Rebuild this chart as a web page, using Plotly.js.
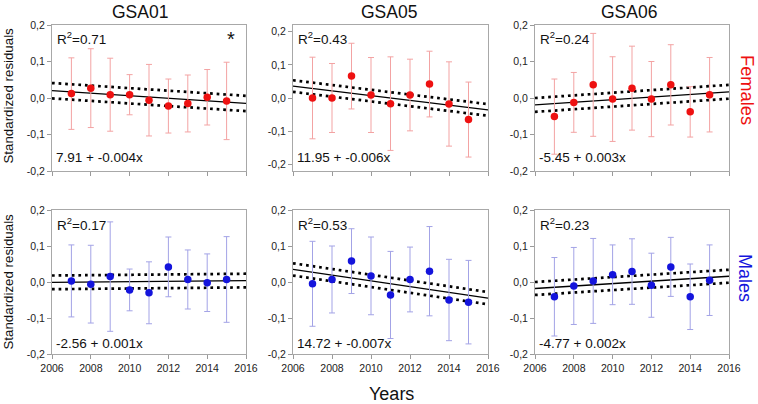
<!DOCTYPE html>
<html>
<head>
<meta charset="utf-8">
<script src="https://cdn.plot.ly/plotly-3.0.1.min.js"></script>
<style>html,body{margin:0;padding:0;background:#fff;}#chart{width:758px;height:404px;}</style>
</head>
<body>
<div id="chart"></div>
<script>
// ---- data ----
const years = [2007, 2008, 2009, 2010, 2011, 2012, 2013, 2014, 2015];
const gsaNames = ['GSA01', 'GSA05', 'GSA06'];

const femGSA01    = [0.012, 0.027, 0.009, 0.009, -0.006, -0.022, -0.015, 0.002, -0.008];
const femGSA01Err = [0.098, 0.108, 0.100, 0.055, 0.098, 0.074, 0.078, 0.076, 0.106];
const femGSA05    = [0.000, 0.000, 0.066, 0.009, -0.017, 0.009, 0.042, -0.018, -0.065];
const femGSA05Err = [0.123, 0.104, 0.099, 0.113, 0.141, 0.108, 0.099, 0.127, 0.113];
const femGSA06    = [-0.051, -0.012, 0.036, -0.003, 0.027, -0.003, 0.036, -0.038, 0.009];
const femGSA06Err = [0.103, 0.082, 0.141, 0.116, 0.115, 0.103, 0.110, 0.069, 0.102];

const malGSA01    = [0.003, -0.006, 0.015, -0.022, -0.030, 0.042, 0.007, -0.002, 0.007];
const malGSA01Err = [0.100, 0.108, 0.152, 0.058, 0.086, 0.083, 0.082, 0.080, 0.119];
const malGSA05    = [-0.005, 0.007, 0.058, 0.017, -0.036, 0.007, 0.030, -0.050, -0.056];
const malGSA05Err = [0.118, 0.093, 0.090, 0.108, 0.121, 0.090, 0.124, 0.113, 0.116];
const malGSA06    = [-0.041, -0.011, 0.003, 0.020, 0.029, -0.009, 0.042, -0.041, 0.005];
const malGSA06Err = [0.109, 0.107, 0.118, 0.083, 0.091, 0.089, 0.082, 0.091, 0.098];

// regression line values at the two ends of the x range, and confidence band half-widths
const fitYears = [2006, 2016];
const femFitGSA01 = [0.020, -0.015];
const femFitGSA05 = [0.036, -0.036];
const femFitGSA06 = [-0.019, 0.017];
const malFitGSA01 = [-0.001, 0.004];
const malFitGSA05 = [0.035, -0.045];
const malFitGSA06 = [-0.018, 0.016];
const femBand = [0.021, 0.0175, 0.019];
const malBand = [0.019, 0.017, 0.018];

const femR2 = ['0.71', '0.43', '0.24'];
const malR2 = ['0.17', '0.53', '0.23'];
const femEq = ['7.91 + -0.004x', '11.95 + -0.006x', '-5.45 + 0.003x'];
const malEq = ['-2.56 + 0.001x', '14.72 + -0.007x', '-4.77 + 0.002x'];
const significant = ['*', '', '', '', '', ''];

const xTickVals = [2006, 2008, 2010, 2012, 2014, 2016];
const yTickVals = [-0.2, -0.1, 0, 0.1, 0.2];
const yTickText = ['-0,2', '-0,1', '0,0', '0,1', '0,2'];

// ---- layout geometry (pixels) ----
const W = 758, H = 404;
const colX = [[52, 246], [293, 488], [535, 729]];
const rowY = [[25, 171], [210, 354]];
const yRanges = [[-0.2, 0.2], [-0.22, 0.22], [-0.2, 0.2], [-0.2, 0.2], [-0.2, 0.2], [-0.2, 0.2]];
const px = x => x / W;
const py = y => 1 - y / H;

const FONT = 'Liberation Sans, Arial, sans-serif';
const RED = '#ee1111', RED_ERR = '#f3a3a3';
const BLUE = '#1414dc', BLUE_ERR = '#a3a3e6';

const means = [femGSA01, femGSA05, femGSA06, malGSA01, malGSA05, malGSA06];
const errs = [femGSA01Err, femGSA05Err, femGSA06Err, malGSA01Err, malGSA05Err, malGSA06Err];
const fits = [femFitGSA01, femFitGSA05, femFitGSA06, malFitGSA01, malFitGSA05, malFitGSA06];
const bands = femBand.concat(malBand);
const r2s = femR2.concat(malR2);
const eqs = femEq.concat(malEq);

const traces = [];
const layout = {
  width: W, height: H,
  margin: {l: 0, r: 0, t: 0, b: 0},
  paper_bgcolor: '#ffffff', plot_bgcolor: '#ffffff',
  showlegend: false,
  font: {family: FONT, color: '#222'},
  annotations: []
};

for (let i = 0; i < 6; i++) {
  const row = Math.floor(i / 3), col = i % 3;
  const sfx = i === 0 ? '' : String(i + 1);
  const xa = 'x' + sfx, ya = 'y' + sfx;
  const female = row === 0;

  // regression line and confidence band
  const fit = fits[i], hw = bands[i];
  traces.push({x: fitYears, y: fit.map(v => v + hw), xaxis: xa, yaxis: ya, mode: 'lines',
    line: {color: '#000', width: 2.7, dash: '2.7px,3.9px'}, hoverinfo: 'skip'});
  traces.push({x: fitYears, y: fit.map(v => v - hw), xaxis: xa, yaxis: ya, mode: 'lines',
    line: {color: '#000', width: 2.7, dash: '2.7px,3.9px'}, hoverinfo: 'skip'});
  traces.push({x: fitYears, y: fit, xaxis: xa, yaxis: ya, mode: 'lines',
    line: {color: '#000', width: 1.3}, hoverinfo: 'skip'});

  // means with error bars
  traces.push({x: years, y: means[i], xaxis: xa, yaxis: ya, mode: 'markers',
    marker: {color: female ? RED : BLUE, size: 7.5},
    error_y: {type: 'data', array: errs[i], visible: true, color: female ? RED_ERR : BLUE_ERR, thickness: 1, width: 3}});

  layout['xaxis' + sfx] = {
    domain: [px(colX[col][0]), px(colX[col][1])], anchor: ya,
    range: [2006, 2016], tickvals: xTickVals, ticktext: xTickVals.map(String),
    showticklabels: row === 1, ticks: 'outside', ticklen: 4, tickcolor: '#9a9a9a',
    showline: true, mirror: true, linecolor: '#a8a8a8', linewidth: 1,
    showgrid: false, zeroline: false,
    tickfont: {family: FONT, size: 10.5, color: '#222'}
  };
  layout['yaxis' + sfx] = {
    domain: [py(rowY[row][1]), py(rowY[row][0])], anchor: xa,
    range: yRanges[i], tickvals: yTickVals, ticktext: yTickText,
    ticks: 'outside', ticklen: 4, tickcolor: '#9a9a9a',
    showline: true, mirror: true, linecolor: '#a8a8a8', linewidth: 1,
    showgrid: false, zeroline: false,
    tickfont: {family: FONT, size: 10.5, color: '#222'}
  };

  const left = colX[col][0];
  const r2Y = row === 0 ? 38 : 224;
  const eqY = row === 0 ? 157.5 : 343.5;
  layout.annotations.push({xref: 'paper', yref: 'paper', x: px(left + 3), y: py(r2Y),
    xanchor: 'left', yanchor: 'middle', showarrow: false,
    text: 'R<sup>2</sup>=' + r2s[i], font: {family: FONT, size: 13.5, color: '#111'}});
  layout.annotations.push({xref: 'paper', yref: 'paper', x: px(left + 2), y: py(eqY),
    xanchor: 'left', yanchor: 'middle', showarrow: false,
    text: eqs[i], font: {family: FONT, size: 13.5, color: '#111'}});
  if (significant[i]) {
    layout.annotations.push({xref: 'paper', yref: 'paper', x: px(colX[col][1] - 15), y: py(39),
      xanchor: 'center', yanchor: 'middle', showarrow: false,
      text: significant[i], font: {family: FONT, size: 20, color: '#111'}});
  }
}

// column titles
const titleX = [140, 389, 629];
gsaNames.forEach((n, c) => layout.annotations.push({xref: 'paper', yref: 'paper',
  x: px(titleX[c]), y: py(12), xanchor: 'center', yanchor: 'middle', showarrow: false,
  text: n, font: {family: FONT, size: 17.5, color: '#111'}}));

// axis titles and row labels
[95.5, 281.5].forEach(yc => layout.annotations.push({xref: 'paper', yref: 'paper',
  x: px(8), y: py(yc), xanchor: 'center', yanchor: 'middle', showarrow: false, textangle: -90,
  text: 'Standardized residuals', font: {family: FONT, size: 13.3, color: '#111'}}));
layout.annotations.push({xref: 'paper', yref: 'paper', x: px(391), y: py(394),
  xanchor: 'center', yanchor: 'middle', showarrow: false,
  text: 'Years', font: {family: FONT, size: 18, color: '#111'}});
layout.annotations.push({xref: 'paper', yref: 'paper', x: px(747), y: py(90),
  xanchor: 'center', yanchor: 'middle', showarrow: false, textangle: 90,
  text: 'Females', font: {family: FONT, size: 18.3, color: '#ee1111'}});
layout.annotations.push({xref: 'paper', yref: 'paper', x: px(745), y: py(278),
  xanchor: 'center', yanchor: 'middle', showarrow: false, textangle: 90,
  text: 'Males', font: {family: FONT, size: 18, color: '#1414dc'}});

Plotly.newPlot('chart', traces, layout, {staticPlot: true, displayModeBar: false});
</script>
</body>
</html>
